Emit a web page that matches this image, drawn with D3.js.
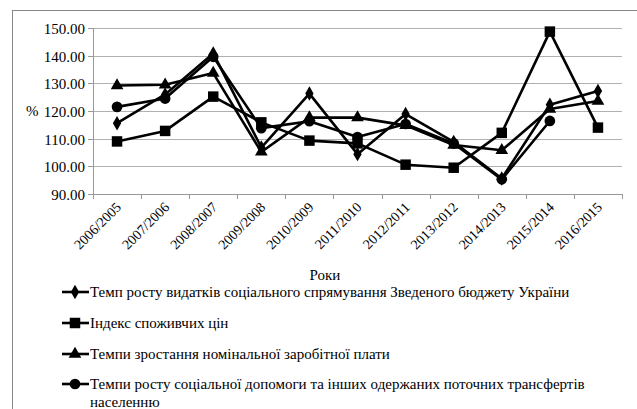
<!DOCTYPE html>
<html><head><meta charset="utf-8">
<script src="https://cdn.jsdelivr.net/npm/d3@7"></script>
</head><body style="margin:0;background:#fff">
<svg id="c" width="637" height="409"></svg>
<script>
const categories = ["2006/2005","2007/2006","2008/2007","2009/2008","2010/2009","2011/2010","2012/2011","2013/2012","2014/2013","2015/2014","2016/2015"];
const spending = [115.6,126.0,140.8,106.8,126.3,104.4,118.9,108.8,95.6,122.3,127.2];
const cpi = [109.0,112.8,125.2,115.9,109.3,108.3,100.6,99.5,112.1,148.7,114.0];
const wages = [129.2,129.5,133.7,105.2,117.6,117.6,114.8,107.7,105.8,120.7,123.6];
const transfers = [121.5,124.5,139.6,113.8,116.3,110.6,115.3,108.3,95.3,116.4,null];
const yTicks = [90,100,110,120,130,140,150];
const seriesNames = ["Темп росту видатків соціального спрямування Зведеного бюджету України","Індекс споживчих цін","Темпи зростання номінальної заробітної плати","Темпи росту соціальної допомоги та інших одержаних поточних трансфертів населенню"];
const seriesData = [spending, cpi, wages, transfers];
const symbols = [d3.symbolDiamond, d3.symbolSquare, d3.symbolTriangle, d3.symbolCircle];
const symSizes = [60, 110, 70, 90];

const svg = d3.select("#c");
const L=93, R=622, T=28, B=194;
const txt = (sel, size) => sel.attr("font-family","Tinos").attr("font-size",size).attr("fill","#000");

svg.append("rect").attr("x",12.5).attr("y",10.5).attr("width",640).attr("height",420).attr("fill","none").attr("stroke","#888").attr("stroke-width",1);

const x = d3.scaleBand().domain(categories).range([L,R]);
const y = d3.scaleLinear().domain([90,150]).range([B,T]);

svg.append("g").selectAll("line").data(yTicks.slice(1)).join("line")
  .attr("x1",L).attr("x2",R).attr("y1",d=>Math.round(y(d))+0.5).attr("y2",d=>Math.round(y(d))+0.5)
  .attr("stroke","#b0b0b0").attr("stroke-width",1);

// y axis drawn manually from scale ticks
svg.append("line").attr("x1",L+0.5).attr("x2",L+0.5).attr("y1",T).attr("y2",B).attr("stroke","#999");
const yt = svg.append("g").selectAll("g").data(yTicks).join("g").attr("transform",d=>`translate(0,${Math.round(y(d))+0.5})`);
yt.append("line").attr("x1",L-5).attr("x2",L).attr("stroke","#999");
txt(yt.append("text").attr("x",L-8).attr("y",5).attr("text-anchor","end").text(d=>d3.format(".2f")(d)),15);

svg.append("line").attr("x1",L).attr("x2",R).attr("y1",B+0.5).attr("y2",B+0.5).attr("stroke","#999");
svg.append("g").selectAll("line").data(d3.range(categories.length+1)).join("line")
  .attr("x1",i=>Math.round(L+i*x.step())+0.5).attr("x2",i=>Math.round(L+i*x.step())+0.5)
  .attr("y1",B).attr("y2",B+5).attr("stroke","#999");
txt(svg.append("g").selectAll("text").data(categories).join("text")
  .attr("transform",d=>`translate(${x(d)+x.bandwidth()/2+5},${B+14}) rotate(-45)`)
  .attr("text-anchor","end").text(d=>d),14);

txt(svg.append("text").attr("x",26).attr("y",116).text("%"),15);
txt(svg.append("text").attr("x",325).attr("y",280).attr("text-anchor","middle").text("Роки"),15);

const cx = d=>x(d)+x.bandwidth()/2;
const line = d3.line().defined(d=>d.v!=null).x(d=>cx(d.c)).y(d=>y(d.v));
seriesData.forEach((arr,si)=>{
  const pts = categories.map((c,i)=>({c, v:arr[i]}));
  svg.append("path").datum(pts).attr("d",line).attr("fill","none").attr("stroke","#000").attr("stroke-width",2.6).attr("stroke-linejoin","round");
});
seriesData.forEach((arr,si)=>{
  const pts = categories.map((c,i)=>({c, v:arr[i]})).filter(d=>d.v!=null);
  svg.append("g").selectAll("path").data(pts).join("path")
    .attr("transform",d=>`translate(${cx(d.c)},${y(d.v)})`)
    .attr("d",d3.symbol().type(symbols[si]).size(symSizes[si])).attr("fill","#000");
});

const legY = [292,323,354,384];
seriesNames.forEach((n,i)=>{
  const g = svg.append("g").attr("transform",`translate(0,${legY[i]})`);
  g.append("line").attr("x1",62).attr("x2",89).attr("y1",0).attr("y2",0).attr("stroke","#000").attr("stroke-width",2.6);
  g.append("path").attr("transform","translate(75,0)").attr("d",d3.symbol().type(symbols[i]).size(symSizes[i])).attr("fill","#000");
  const lines = i===3 ? ["Темпи росту соціальної допомоги та інших одержаних поточних трансфертів","населенню"] : [n];
  lines.forEach((t,j)=>{
    txt(g.append("text").attr("x",90).attr("y",5+j*18).text(t),15);
  });
});
</script>
</body></html>
